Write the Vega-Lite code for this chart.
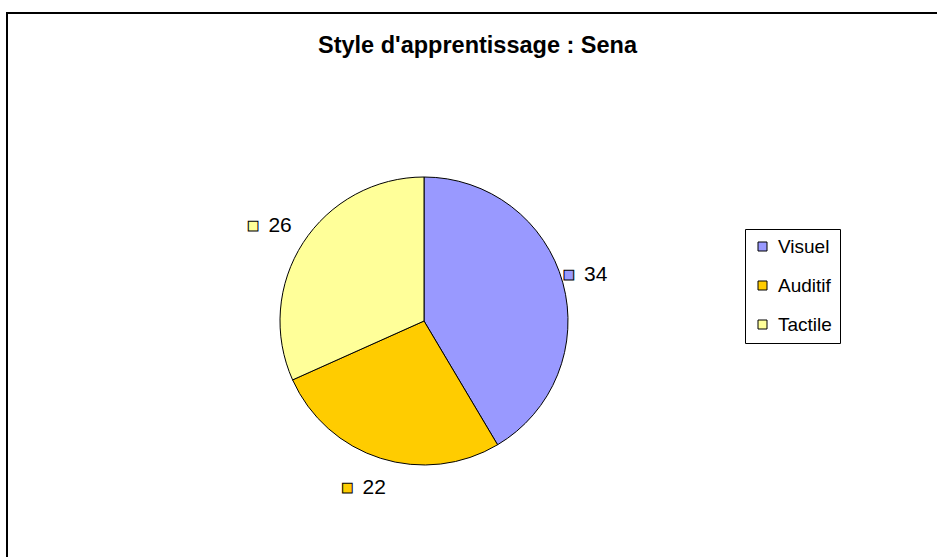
{
  "$schema": "https://vega.github.io/schema/vega-lite/v6.json",
  "width": 1000,
  "height": 600,
  "autosize": "none",
  "padding": {"left": 7, "top": 13, "right": 0, "bottom": 0},
  "background": "white",
  "view": {"stroke": "black", "strokeWidth": 2, "fill": "white"},
  "config": {
    "font": "Liberation Sans"
  },
  "title": {
    "text": "Style d'apprentissage : Sena",
    "font": "Liberation Sans",
    "fontSize": 23.5,
    "fontWeight": "bold",
    "color": "black",
    "anchor": "start",
    "orient": "top",
    "baseline": "alphabetic",
    "offset": 0,
    "dx": 311,
    "dy": 63
  },
  "data": {
    "values": [
      {"style": "Visuel", "valeur": 34, "rang": 1},
      {"style": "Auditif", "valeur": 22, "rang": 2},
      {"style": "Tactile", "valeur": 26, "rang": 3}
    ]
  },
  "encoding": {
    "theta": {"field": "valeur", "type": "quantitative", "stack": true},
    "order": {"field": "rang", "type": "quantitative"},
    "color": {
      "field": "style",
      "type": "nominal",
      "sort": ["Visuel", "Auditif", "Tactile"],
      "scale": {"domain": ["Visuel", "Auditif", "Tactile"], "range": ["#9999FF", "#FFCC00", "#FFFF99"]},
      "legend": {
        "title": null,
        "orient": "none",
        "legendX": 738,
        "legendY": 216,
        "symbolType": "square",
        "symbolSize": 81,
        "symbolStrokeColor": "black",
        "symbolStrokeWidth": 1,
        "symbolOpacity": 1,
        "labelFont": "Liberation Sans",
        "labelFontSize": 19,
        "labelColor": "black",
        "labelOffset": 6,
        "rowPadding": 19,
        "padding": 8,
        "strokeColor": "black",
        "fillColor": "white"
      }
    }
  },
  "layer": [
    {
      "mark": {"type": "arc", "x": 417, "y": 308, "outerRadius": 144, "stroke": "black", "strokeWidth": 1}
    },
    {
      "mark": {"type": "text", "x": 417, "y": 308, "radius": 175, "dx": -24, "text": "■", "fontSize": 20, "baseline": "middle", "align": "center", "stroke": "black", "strokeWidth": 1}
    },
    {
      "mark": {"type": "text", "x": 417, "y": 308, "radius": 175, "dx": 3, "fontSize": 21, "baseline": "middle", "align": "center", "font": "Liberation Sans"},
      "encoding": {
        "text": {"field": "valeur", "type": "quantitative"},
        "color": {"value": "black"}
      }
    }
  ]
}
